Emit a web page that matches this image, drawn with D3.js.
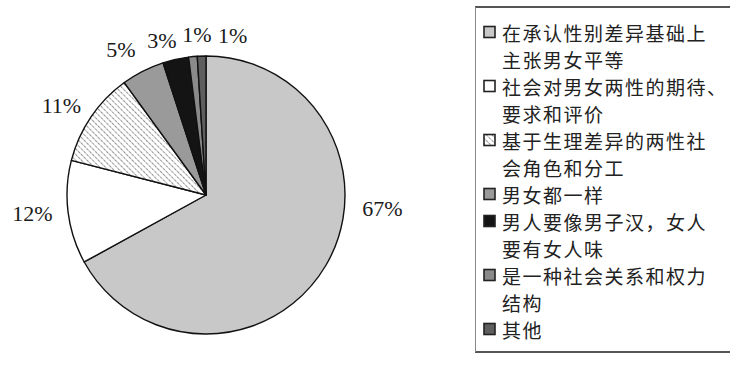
<!DOCTYPE html>
<html>
<head>
<meta charset="utf-8">
<script src="https://cdn.jsdelivr.net/npm/d3@7"></script>
<style>
  html, body { margin: 0; padding: 0; background: #fff; }
  svg { display: block; }
</style>
</head>
<body>
<svg id="chart" width="730" height="375"></svg>
<script>
// Survey answers and their shares (%)
const categories = [
  ["在承认性别差异基础上", "主张男女平等"],
  ["社会对男女两性的期待、", "要求和评价"],
  ["基于生理差异的两性社", "会角色和分工"],
  ["男女都一样"],
  ["男人要像男子汉，女人", "要有女人味"],
  ["是一种社会关系和权力", "结构"],
  ["其他"]
];
const values = [67, 12, 11, 5, 3, 1, 1];
const labels = values.map(v => v + "%");

// Slice fills (index 2 uses the hatch pattern)
const fills = ["#c8c8c8", "#ffffff", "url(#hatch)", "#9a9a9a", "#141414", "#8a8a8a", "#5e5e5e"];
// Label nudges from a fixed outer ring
const labelNudge = [[30, -73], [-5, -3], [-4, 6], [-8, 6], [-7, 11], [7, 9], [32, 10]];

const svg = d3.select("#chart");
const cx = 206, cy = 195, r = 139;

const defs = svg.append("defs");
const pat = defs.append("pattern")
  .attr("id", "hatch").attr("patternUnits", "userSpaceOnUse")
  .attr("width", 4).attr("height", 4)
  .attr("patternTransform", "rotate(-45)");
pat.append("rect").attr("width", 4).attr("height", 4).attr("fill", "#fff");
pat.append("line").attr("x1", 0).attr("y1", 0).attr("x2", 0).attr("y2", 4)
  .attr("stroke", "#555").attr("stroke-width", 1.3).attr("stroke-dasharray", "1.6 0.8");

const pie = d3.pie().sort(null).value(d => d)(values);
const arc = d3.arc().innerRadius(0).outerRadius(r);
const ring = d3.arc().innerRadius(170).outerRadius(170);

const g = svg.append("g").attr("transform", `translate(${cx},${cy})`);
g.selectAll("path.slice").data(pie).join("path")
  .attr("class", "slice")
  .attr("d", arc)
  .attr("fill", (d, i) => fills[i])
  .attr("stroke", "#111")
  .attr("stroke-width", 1.4)
  .attr("stroke-linejoin", "round");

g.selectAll("text.pct").data(pie).join("text")
  .attr("class", "pct")
  .attr("transform", (d, i) => {
    const [x, y] = ring.centroid(d);
    return `translate(${x + labelNudge[i][0]},${y + labelNudge[i][1]})`;
  })
  .attr("text-anchor", "middle")
  .attr("dominant-baseline", "central")
  .attr("font-family", "'Liberation Serif', 'DejaVu Serif', serif")
  .attr("font-size", 22)
  .attr("fill", "#1a1a1a")
  .text((d, i) => labels[i]);

// Legend frame
const lg = svg.append("g");
lg.append("line").attr("x1", 475).attr("x2", 730).attr("y1", 7).attr("y2", 7)
  .attr("stroke", "#555").attr("stroke-width", 2);
lg.append("line").attr("x1", 475).attr("x2", 730).attr("y1", 352).attr("y2", 352)
  .attr("stroke", "#555").attr("stroke-width", 2);
lg.append("line").attr("x1", 475.5).attr("x2", 475.5).attr("y1", 7).attr("y2", 352)
  .attr("stroke", "#888").attr("stroke-width", 1);

const lineH = 27, top0 = 32;
let line = 0;
categories.forEach((lines, i) => {
  const y0 = top0 + line * lineH;
  lg.append("rect")
    .attr("x", 484).attr("y", y0 - 5.5).attr("width", 11).attr("height", 11)
    .attr("fill", fills[i])
    .attr("stroke", "#222").attr("stroke-width", 1.6);
  lines.forEach((t, k) => {
    lg.append("text")
      .attr("x", 502).attr("y", y0 + k * lineH)
      .attr("dominant-baseline", "central")
      .attr("font-family", "'Noto Sans CJK SC', sans-serif")
      .attr("font-size", 19)
      .attr("letter-spacing", 1.5)
      .attr("fill", "#222")
      .text(t);
  });
  line += lines.length;
});
</script>
</body>
</html>
